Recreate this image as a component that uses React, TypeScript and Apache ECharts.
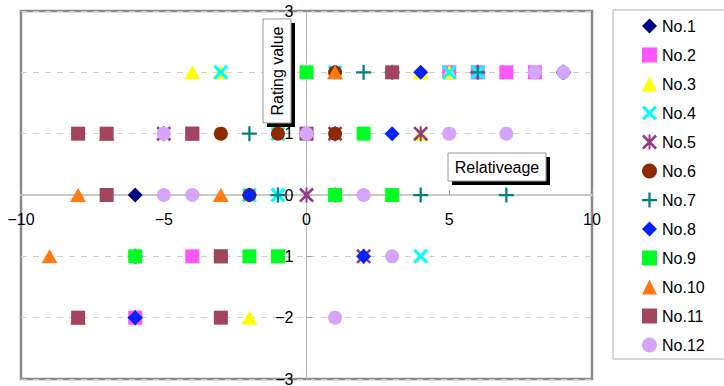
import React, { useEffect, useRef } from "react";
import * as echarts from "echarts";

const seriesNames = ["No.1", "No.2", "No.3", "No.4", "No.5", "No.6", "No.7", "No.8", "No.9", "No.10", "No.11", "No.12"];

const no1 = [[-6, 0]];
const no2 = [[5, 2], [6, 2], [7, 2], [8, 2], [-4, 1], [-4, -1], [-6, -2]];
const no3 = [[-4, 2], [-3, 2], [4, 2], [5, 2], [4, 1], [-2, -2]];
const no4 = [[-3, 2], [1, 2], [5, 2], [6, 2], [-1, 1], [-2, 0], [-1, 0], [4, -1]];
const no5 = [[-5, 1], [1, 1], [4, 1], [0, 0], [1, 0], [2, -1]];
const no6 = [[1, 2], [-3, 1], [-1, 1], [1, 1], [-2, 0]];
const no7 = [[2, 2], [3, 2], [6, 2], [9, 2], [-2, 1], [-1, 0], [4, 0], [7, 0], [-6, -1], [-6, -2]];
const no8 = [[4, 2], [3, 1], [-2, 0], [2, -1], [-6, -2]];
const no9 = [[0, 2], [2, 1], [1, 0], [3, 0], [-6, -1], [-3, -1], [-2, -1], [-1, -1]];
const no10 = [[1, 2], [-7, 1], [-8, 0], [-3, 0], [-9, -1], [-8, -2]];
const no11 = [[3, 2], [-8, 1], [-7, 1], [-4, 1], [0, 1], [-7, 0], [-3, -1], [-8, -2], [-3, -2]];
const no12 = [[8, 2], [9, 2], [-5, 1], [0, 1], [5, 1], [7, 1], [-5, 0], [-4, 0], [2, 0], [3, -1], [1, -2]];

const seriesData = [no1, no2, no3, no4, no5, no6, no7, no8, no9, no10, no11, no12];

const xTicks = { min: -10, max: 10, interval: 5 };
const yTicks = { min: -3, max: 3, interval: 1 };

const SYM_X = "path://M0,3L3,0L10,7L17,0L20,3L13,10L20,17L17,20L10,13L3,20L0,17L7,10Z";
const SYM_AST =
  "path://M0,2.5L2.5,0L10,7.5L17.5,0L20,2.5L12.5,10L20,17.5L17.5,20L10,12.5L2.5,20L0,17.5L7.5,10Z M8.7,0L11.3,0L11.3,20L8.7,20Z";
const SYM_PLUS =
  "path://M8.5,0L11.5,0L11.5,8.5L20,8.5L20,11.5L11.5,11.5L11.5,20L8.5,20L8.5,11.5L0,11.5L0,8.5L8.5,8.5Z";

const colors = ["#000080", "#FF55FF", "#FFFF00", "#00FFFF", "#933A85", "#8E2A00", "#008080", "#0022FF", "#00FF22", "#FF7A12", "#A3445F", "#D4A5FA"];
const symbols = ["diamond", "rect", "triangle", SYM_X, SYM_AST, "circle", SYM_PLUS, "diamond", "rect", "triangle", "rect", "circle"];
const sizes: any[] = [15, 14, [16, 14], 15, 15, 14, 15, 15, 14, [16, 14], 14, 14];

const FONT = "'Liberation Sans', Arial, sans-serif";
const fmt = (v: number) => String(v).replace("-", "\u2212");

const W = 724;
const H = 386;
const G = { left: 21, right: 132, top: 11, bottom: 7 };

export default function App() {
  const ref = useRef<HTMLDivElement>(null);
  useEffect(() => {
    const chart = echarts.init(ref.current!, null, { renderer: "svg" });
    const plotW = W - G.left - G.right;
    const plotH = H - G.top - G.bottom;
    // Move axes onto the zero lines (ranges are symmetric around zero)
    const xOffset = -plotH * ((0 - yTicks.min) / (yTicks.max - yTicks.min));
    const yOffset = -plotW * ((0 - xTicks.min) / (xTicks.max - xTicks.min));
    const option: any = {
      animation: false,
      backgroundColor: "#ffffff",
      grid: {
        left: G.left,
        right: G.right,
        top: G.top,
        bottom: G.bottom,
        containLabel: false,
        outerBoundsMode: "none",
        show: true,
        borderColor: "#8a8a8a",
        borderWidth: 2.5,
        backgroundColor: "transparent",
      },
      legend: {
        orient: "vertical",
        left: 613,
        top: 10,
        padding: [8, 30, 6, 29],
        itemGap: 13,
        itemWidth: 15,
        itemHeight: 15,
        borderColor: "#b0b0b0",
        borderWidth: 1,
        backgroundColor: "#fff",
        textStyle: { fontFamily: FONT, fontSize: 16, color: "#000" },
        data: seriesNames,
      },
      xAxis: {
        type: "value",
        position: "bottom",
        offset: xOffset,
        min: xTicks.min,
        max: xTicks.max,
        interval: xTicks.interval,
        axisLine: { onZero: false, lineStyle: { color: "#c8c8c8", width: 2 } },
        axisTick: { show: true, inside: true, length: 5, lineStyle: { color: "#999" } },
        axisLabel: { formatter: fmt, color: "#000", fontFamily: FONT, fontSize: 16, margin: 16 },
        splitLine: { show: false },
      },
      yAxis: {
        type: "value",
        position: "left",
        offset: yOffset,
        min: yTicks.min,
        max: yTicks.max,
        interval: yTicks.interval,
        axisLine: { onZero: false, lineStyle: { color: "#bbbbbb", width: 1 } },
        axisTick: { show: true, inside: true, length: 5, lineStyle: { color: "#999" } },
        axisLabel: { formatter: fmt, color: "#000", fontFamily: FONT, fontSize: 16, margin: 13 },
        splitLine: { show: true, lineStyle: { color: "#cfcfcf", type: [6, 6], width: 1 } },
      },
      graphic: [
        { type: "rect", shape: { x: 267, y: 23, width: 28, height: 104 }, style: { fill: "#000" }, z: 100 },
        { type: "rect", shape: { x: 263, y: 19, width: 28, height: 104 }, style: { fill: "#fff", stroke: "#999", lineWidth: 1 }, z: 101 },
        {
          type: "text",
          x: 277,
          y: 71,
          rotation: Math.PI / 2,
          z: 102,
          style: { text: "Rating value", fontFamily: FONT, fontSize: 16, fill: "#000", align: "center", verticalAlign: "middle" },
        },
        { type: "rect", shape: { x: 452, y: 157, width: 98, height: 28 }, style: { fill: "#000" }, z: 100 },
        { type: "rect", shape: { x: 448, y: 153, width: 98, height: 28 }, style: { fill: "#fff", stroke: "#999", lineWidth: 1 }, z: 101 },
        {
          type: "text",
          x: 497,
          y: 167,
          z: 102,
          style: { text: "Relativeage", fontFamily: FONT, fontSize: 16, fill: "#000", align: "center", verticalAlign: "middle" },
        },
      ],
      series: seriesNames.map((name, i) => ({
        name,
        type: "scatter",
        data: seriesData[i],
        symbol: symbols[i],
        symbolSize: sizes[i],
        itemStyle: { color: colors[i], opacity: 1 },
        emphasis: { disabled: true },
      })),
    };
    chart.setOption(option);
    return () => chart.dispose();
  }, []);
  return <div ref={ref} style={{ position: "absolute", left: 0, top: 0, width: W, height: H }} />;
}
